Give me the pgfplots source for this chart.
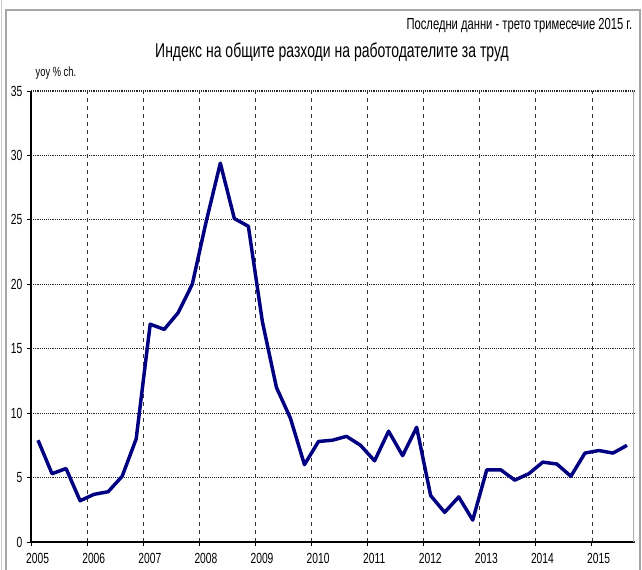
\documentclass[border=0pt]{standalone}
\usepackage{fontspec}
\setmainfont{Liberation Sans}[FakeStretch=0.7]
\usepackage{pgfplots}
\pgfplotsset{compat=1.18}
\definecolor{navyline}{RGB}{0,0,128}
\begin{document}
\begin{tikzpicture}
\path[use as bounding box] (0,0) rectangle (481.5pt,427.5pt);
\draw[gray!70, line width=0.8pt] (4.5pt,-5pt) -- (4.5pt,420pt) -- (480pt,420pt) -- (480pt,-5pt);
\draw[gray!40, line width=0.6pt] (0.75pt,-5pt) -- (0.75pt,430pt);
\node[anchor=east, font=\fontsize{12}{14}\selectfont] at (477.75pt,408pt) {Последни данни - трето тримесечие 2015 г.};
\node[font=\fontsize{15}{18}\selectfont] at (249pt,388.5pt) {Индекс на общите разходи на работодателите за труд};
\node[anchor=west, font=\fontsize{10}{12}\selectfont] at (23.25pt,372.75pt) {yoy \% ch.};
\begin{axis}[
  at={(23.25pt,21pt)}, anchor=south west, scale only axis,
  width=452.25pt, height=338.25pt,
  xmin=2005, xmax=2015.75, ymin=0, ymax=35,
  axis x line*=bottom, axis y line*=left,
  axis line style={black, line width=0.8pt, -},
  xtick={2005,...,2015}, ytick={0,5,...,35},
  x tick label style={/pgf/number format/1000 sep={}, xshift=5pt, yshift=-2pt},
  tick align=outside, major tick length=3pt,
  tick style={black, line width=0.6pt},
  xmajorgrids, ymajorgrids,
  major x grid style={dashed, black!80, line width=0.5pt},
  major y grid style={densely dotted, black!85, line width=0.8pt},
  ticklabel style={font=\fontsize{11}{13}\selectfont},
  /pgf/number format/assume math mode=true,
]
\draw[gray!60, line width=1pt] (rel axis cs:1,0) -- (rel axis cs:1,1);
\addplot[navyline, line width=2.6pt, line join=round] table {
x y
2005.125 7.9
2005.375 5.3
2005.625 5.7
2005.875 3.2
2006.125 3.7
2006.375 3.9
2006.625 5.1
2006.875 8.0
2007.125 16.9
2007.375 16.5
2007.625 17.8
2007.875 20.0
2008.125 24.9
2008.375 29.4
2008.625 25.1
2008.875 24.5
2009.125 17.1
2009.375 12.0
2009.625 9.6
2009.875 6.0
2010.125 7.8
2010.375 7.9
2010.625 8.2
2010.875 7.5
2011.125 6.3
2011.375 8.6
2011.625 6.7
2011.875 8.9
2012.125 3.6
2012.375 2.3
2012.625 3.5
2012.875 1.7
2013.125 5.6
2013.375 5.6
2013.625 4.8
2013.875 5.3
2014.125 6.2
2014.375 6.05
2014.625 5.1
2014.875 6.9
2015.125 7.1
2015.375 6.9
2015.625 7.5
};
\end{axis}
\end{tikzpicture}
\end{document}
